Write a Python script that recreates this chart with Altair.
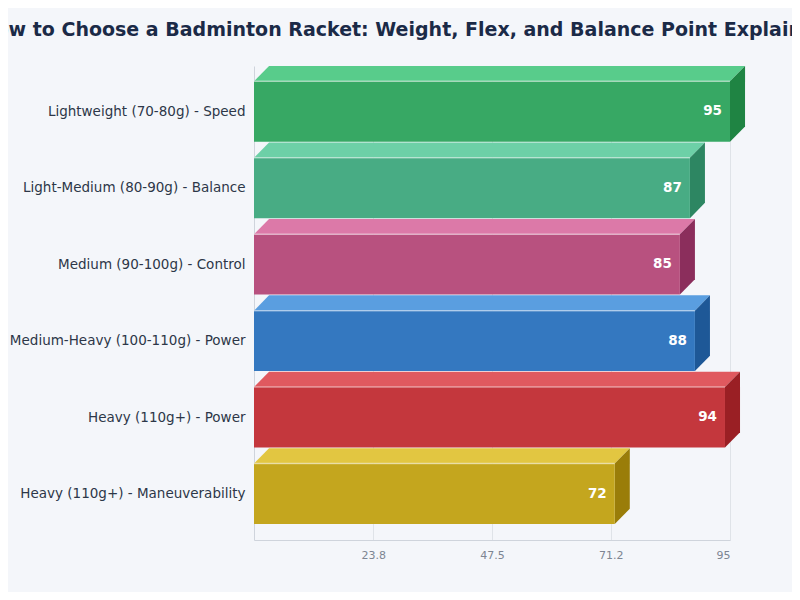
import pandas as pd
import altair as alt

names = ['Lightweight (70-80g) - Speed', 'Light-Medium (80-90g) - Balance', 'Medium (90-100g) - Control',
         'Medium-Heavy (100-110g) - Power', 'Heavy (110g+) - Power', 'Heavy (110g+) - Maneuverability']
scores = [95, 87, 85, 88, 94, 72]
front_colors = ['#37a864', '#48ac84', '#b8517f', '#3478c0', '#c4373d', '#c4a61e']
top_colors = ['#58cc8b', '#6dd0a7', '#dc79a8', '#5a9ee0', '#e0595f', '#e2c641']
side_colors = ['#1f8443', '#2d8662', '#8b2e5c', '#1e5897', '#9a1f24', '#9a7d09']
tick_values = [23.8, 47.5, 71.2, 95]

# 3d look: depth in x units and in row units, bar height in row units
DX = 3.0
DY = 0.2
BAR_H = 0.79

fronts, tops, sides = [], [], []
for i, (n, v) in enumerate(zip(names, scores)):
    yt = i + DY
    yb = yt + BAR_H
    fronts.append(dict(name=n, x0=0, v=v, yt=yt, yb=yb, ym=(yt + yb) / 2, c=front_colors[i]))
    for x, y, y2 in [(0, yt, yt), (DX, yt - DY, yt), (v, yt - DY, yt), (v + DX, yt - DY, yt - DY)]:
        tops.append(dict(name=n, x=x, y=y, y2=y2, c=top_colors[i]))
    for x, y, y2 in [(v, yt, yb), (v + DX, yt - DY, yb - DY)]:
        sides.append(dict(name=n, x=x, y=y, y2=y2, c=side_colors[i]))

fronts = pd.DataFrame(fronts)
tops = pd.DataFrame(tops)
sides = pd.DataFrame(sides)

label_centers = list(fronts['ym'])
label_expr = "[" + ",".join("'" + n + "'" for n in names) + "][round(datum.value - %.3f)]" % label_centers[0]

xscale = alt.Scale(domain=[0, 95], nice=False, zero=True)
yscale = alt.Scale(domain=[0, 6.2], reverse=True, nice=False, zero=False)

base_x = alt.X('x:Q', scale=xscale, axis=alt.Axis(values=tick_values, format='.1~f', title=None, grid=True,
                                                  gridColor='#dfe3e8', ticks=False, domainColor='#cfd4dc',
                                                  labelColor='#7d8592', labelFontSize=11, labelPadding=9))
base_y = alt.Y('y:Q', scale=yscale, axis=alt.Axis(values=label_centers, labelExpr=label_expr, title=None,
                                                  grid=False, ticks=False, domainColor='#cfd4dc',
                                                  labelColor='#2d3748', labelFontSize=13.5, labelPadding=9,
                                                  labelLimit=320))

top_face = alt.Chart(tops).mark_area(orient='vertical', clip=False).encode(
    base_x, base_y, y2='y2:Q', detail='name:N', color=alt.Color('c:N', scale=None))

side_face = alt.Chart(sides).mark_area(orient='vertical', clip=False).encode(
    x='x:Q', y='y:Q', y2='y2:Q', detail='name:N', color=alt.Color('c:N', scale=None))

front = alt.Chart(fronts).mark_rect(clip=False).encode(
    x='x0:Q', x2='v:Q', y='yt:Q', y2='yb:Q', color=alt.Color('c:N', scale=None))

shine = alt.Chart(fronts).mark_rule(color='white', opacity=0.45, strokeWidth=1.5).encode(
    x='x0:Q', x2='v:Q', y='yt:Q')

labels = alt.Chart(fronts).mark_text(align='right', dx=-8, color='white', fontWeight='bold', fontSize=13.5).encode(
    x='v:Q', y='ym:Q', text='v:Q')

chart = (top_face + side_face + front + shine + labels).properties(
    width=476, height=474,
    title=alt.TitleParams('How to Choose a Badminton Racket: Weight, Flex, and Balance Point Explained',
                          fontSize=19, fontWeight='bold', color='#1b2a47', anchor='middle', dx=-88, offset=26),
    autosize=alt.AutoSizeParams(type='none'),
    padding={'left': 246, 'top': 58, 'right': 62, 'bottom': 52},
    background='#f4f6fa'
).configure(font='DejaVu Sans').configure_view(stroke=None)

chart.save("out.html", embed_options={"renderer": "svg", "actions": False})
